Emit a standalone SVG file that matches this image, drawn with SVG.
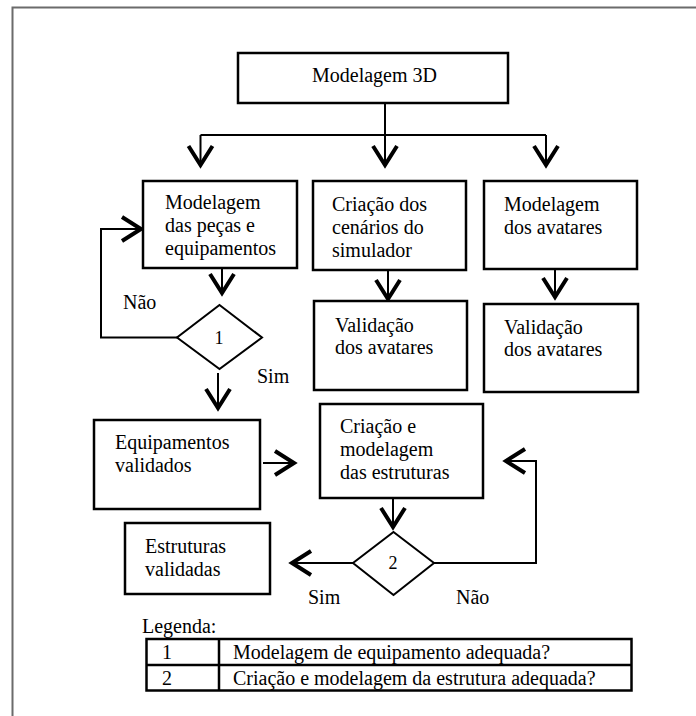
<svg xmlns="http://www.w3.org/2000/svg" width="696" height="716" viewBox="0 0 696 716" font-family="'Liberation Serif', 'Times New Roman', Times, serif" font-size="20">
  <defs>
    <style>
      text { font-family: 'Liberation Serif', 'Times New Roman', Times, serif; font-size: 20px; fill: #000; }
      .box { fill: #fff; stroke: #000; stroke-width: 2.5; }
      .dia { fill: #fff; stroke: #000; stroke-width: 2; }
      .wire { fill: none; stroke: #000; stroke-width: 2; }
      .arr { fill: none; stroke: #000; stroke-width: 2; marker-end: url(#head); }
      .frame { fill: none; stroke: #6b6b6b; stroke-width: 2; }
      .mid { text-anchor: middle; }
      .num { font-size: 18px; }
    </style>
    <marker id="head" markerUnits="userSpaceOnUse" markerWidth="30" markerHeight="30" viewBox="-24 -15 30 30" refX="0" refY="0" orient="auto">
      <path d="M-19,-12 L0,0 L-19,12" fill="none" stroke="#000" stroke-width="4" stroke-linejoin="miter"/>
    </marker>
  </defs>

  <rect width="696" height="716" fill="#fff"/>
  <!-- page frame (left and top edges only) -->
  <path class="frame" d="M12.5,716 V7.5 H696"/>

  <!-- connectors -->
  <g id="connectors">
    <path class="wire" d="M385,103 V135 M200.5,135 H546"/>
    <path class="arr" d="M200.5,135 V165"/>
    <path class="arr" d="M385,135 V165"/>
    <path class="arr" d="M546,135 V165"/>
    <path class="arr" d="M222,268 V293"/>
    <path class="arr" d="M388,270 V299"/>
    <path class="arr" d="M555,269 V297"/>
    <path class="arr" d="M177,337.5 H101 V229 H141"/>
    <path class="arr" d="M218,373 V408"/>
    <path class="arr" d="M263,463 H294"/>
    <path class="arr" d="M393,498 V527"/>
    <path class="arr" d="M353,563 H292"/>
    <path class="arr" d="M434,563 H536 V461 H506"/>
  </g>

  <g id="n-modelagem-3d">
    <rect class="box" x="238" y="53" width="270" height="50"/>
    <text x="312" y="82">Modelagem 3D</text>
  </g>

  <g id="n-pecas">
    <rect class="box" x="143" y="181" width="154" height="87"/>
    <text x="165" y="209">Modelagem</text>
    <text x="165" y="232">das peças e</text>
    <text x="165" y="255">equipamentos</text>
  </g>

  <g id="n-cenarios">
    <rect class="box" x="313" y="181" width="153" height="89"/>
    <text x="332" y="211">Criação dos</text>
    <text x="332" y="234">cenários do</text>
    <text x="332" y="257">simulador</text>
  </g>

  <g id="n-avatares">
    <rect class="box" x="484" y="181" width="153" height="88"/>
    <text x="504" y="211">Modelagem</text>
    <text x="504" y="234">dos avatares</text>
  </g>

  <g id="n-validacao-1">
    <rect class="box" x="314" y="301" width="153" height="89"/>
    <text x="335" y="332">Validação</text>
    <text x="335" y="354">dos avatares</text>
  </g>

  <g id="n-validacao-2">
    <rect class="box" x="484" y="304" width="154" height="88"/>
    <text x="504" y="334">Validação</text>
    <text x="504" y="356">dos avatares</text>
  </g>

  <g id="n-decisao-1">
    <polygon class="dia" points="219.5,305 262,337.5 219.5,369 177,337.5"/>
    <text class="mid num" x="219" y="344">1</text>
  </g>

  <g id="n-equipamentos">
    <rect class="box" x="94" y="420" width="166" height="89"/>
    <text x="115" y="449">Equipamentos</text>
    <text x="115" y="472">validados</text>
  </g>

  <g id="n-estruturas">
    <rect class="box" x="320" y="404" width="163" height="94"/>
    <text x="340" y="433">Criação e</text>
    <text x="340" y="456">modelagem</text>
    <text x="340" y="479">das estruturas</text>
  </g>

  <g id="n-decisao-2">
    <polygon class="dia" points="393.5,532 434,563 393.5,595 353,563"/>
    <text class="mid num" x="393" y="569">2</text>
  </g>

  <g id="n-estruturas-validadas">
    <rect class="box" x="125" y="523" width="145" height="71"/>
    <text x="145" y="553">Estruturas</text>
    <text x="145" y="576">validadas</text>
  </g>

  <!-- branch labels -->
  <g id="labels">
    <text x="123" y="309">Não</text>
    <text x="257" y="383">Sim</text>
    <text x="308" y="604">Sim</text>
    <text x="456" y="604">Não</text>
  </g>

  <!-- legend table -->
  <g id="legend">
    <text x="142" y="633">Legenda:</text>
    <rect class="box" x="146.5" y="639" width="485" height="51.5"/>
    <path class="wire" d="M146.5,665 H631.5 M219,639 V690.5" style="stroke-width:2.5"/>
    <text x="162" y="659">1</text>
    <text x="233" y="659">Modelagem de equipamento adequada?</text>
    <text x="162" y="685">2</text>
    <text x="233" y="685">Criação e modelagem da estrutura adequada?</text>
  </g>
</svg>
